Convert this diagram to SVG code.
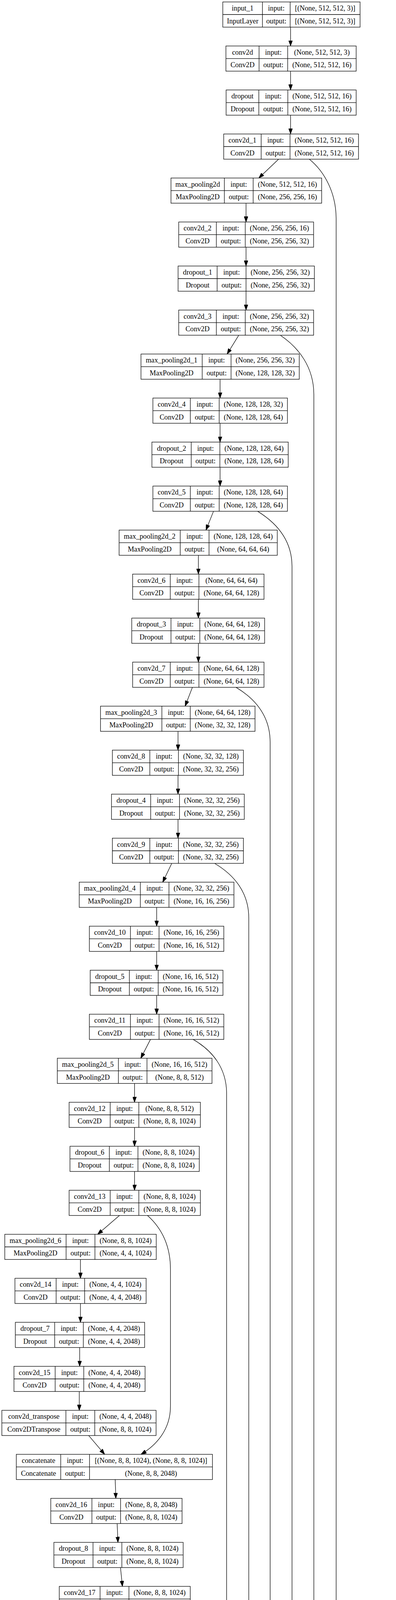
<svg xmlns="http://www.w3.org/2000/svg" width="1014" height="7624" viewBox="0 0 1014 7624">
<defs>
<style>
.n rect{fill:#fff;stroke:#000;stroke-width:1.3}
.n path{fill:none;stroke:#000;stroke-width:1.3}
text{font-family:"Liberation Serif","Times New Roman",serif;font-size:18.2px;text-anchor:middle;fill:#000}
.e path{fill:none;stroke:#000;stroke-width:1.3;marker-end:url(#a)}
</style>
<marker id="a" viewBox="0 0 14 10" refX="14" refY="5" markerWidth="14" markerHeight="10" markerUnits="userSpaceOnUse" orient="auto"><path d="M0,0L14,5L0,10z" fill="#000" stroke="#000" stroke-width="1"/></marker>
</defs>
<rect width="1014" height="7624" fill="#fff"/>
<g id="connectors" class="e">
<path d="M744,69.5L744,117.67"/>
<path d="M744,182.17L744,230.34"/>
<path d="M744,294.84L744,343.01"/>
<path d="M713.4,407.51L662.7,455.68"/>
<path d="M630,520.18L630,568.35"/>
<path d="M630,632.85L630,681.02"/>
<path d="M630,745.52L630,793.69"/>
<path d="M611.4,858.19L581.6,906.36"/>
<path d="M563.5,970.86L563.5,1019.03"/>
<path d="M563.5,1083.53L563.5,1131.7"/>
<path d="M563.5,1196.2L563.5,1244.37"/>
<path d="M546.7,1308.87L527.4,1357.04"/>
<path d="M508,1421.54L508,1469.71"/>
<path d="M508,1534.21L508,1582.38"/>
<path d="M508,1646.88L508,1695.05"/>
<path d="M492.7,1759.55L474,1807.72"/>
<path d="M455.8,1872.22L455.8,1920.39"/>
<path d="M455.8,1984.89L455.8,2033.06"/>
<path d="M455.8,2097.56L455.8,2145.73"/>
<path d="M439.8,2210.23L416.7,2258.4"/>
<path d="M401.2,2322.9L401.2,2371.07"/>
<path d="M401.2,2435.57L401.2,2483.74"/>
<path d="M401.2,2548.24L401.2,2596.41"/>
<path d="M385.3,2660.91L360.5,2709.08"/>
<path d="M344.5,2773.58L344.5,2821.75"/>
<path d="M344.5,2886.25L344.5,2934.42"/>
<path d="M344.5,2998.92L344.5,3047.09"/>
<path d="M306,3111.59L250,3159.76"/>
<path d="M206,3224.26L206,3272.43"/>
<path d="M206,3336.93L206,3385.1"/>
<path d="M204,3449.6L204,3497.77"/>
<path d="M203,3562.27L203,3610.44"/>
<path d="M227,3674.94L268,3723.11"/>
<path d="M295,3787.61L296.6,3835.78"/>
<path d="M300,3900.28L302,3948.45"/>
<path d="M308.5,4012.95L313.5,4061.12"/>
<path d="M322,4125.62L324.5,4173.79"/>
<path d="M329,4238.29L330.5,4286.46"/>
<path d="M332.4,4350.96L333.7,4399.13"/>
<path d="M342.7,4463.63L354.4,4511.8"/>
<path d="M366,4576.3L370.5,4624.47"/>
<path d="M378.3,4688.97L380.2,4737.14"/>
<path d="M383.5,4801.64L385.4,4849.81"/>
<path d="M389.3,4914.31L391.9,4962.48"/>
<path d="M402.9,5026.98L411.9,5075.15"/>
<path d="M424.9,5139.65L428.1,5187.82"/>
<path d="M435.2,5252.32L437.8,5300.49"/>
<path d="M440.4,5364.99L441,5413.16"/>
<path d="M449.4,5477.66L459.1,5525.83"/>
<path d="M470.1,5590.33L474,5638.5"/>
<path d="M479.8,5703L481.8,5751.17"/>
<path d="M484.3,5815.67L486.3,5863.84"/>
<path d="M488.2,5928.34L489.5,5976.51"/>
<path d="M498,6041.01L506.3,6089.18"/>
<path d="M519.3,6153.68L523.8,6201.85"/>
<path d="M530.3,6266.35L532.2,6314.52"/>
<path d="M537.4,6379.02L541.3,6427.19"/>
<path d="M546.4,6491.69L547.1,6539.86"/>
<path d="M548.4,6604.36L549.7,6652.53"/>
<path d="M560,6717.03L571,6765.2"/>
<path d="M587.2,6829.7L592.3,6877.87"/>
<path d="M600.7,6942.37L604,6990.54"/>
<path d="M640.2,7055.04L695.2,7103.21"/>
<path d="M731.4,7167.71L731.4,7215.88"/>
<path d="M731.4,7280.38L731.4,7328.55"/>
<path d="M731.4,7393.05L731.4,7441.22"/>
<path d="M731.4,7505.72L731.4,7553.89"/>
<path d="M792,407.5C832,440 860.7,495 860.7,560L860.7,6950C860.7,7020 830,7068 785.7,7103.2"/>
<path d="M717.8,858.2C765,890 803.6,940 803.6,1010L803.6,6415C803.6,6470 760,6510 704.9,6539.9"/>
<path d="M659.6,1308.9C710,1340 747.7,1385 747.7,1450L747.7,5850C747.7,5910 700,5950 643.4,5976.5"/>
<path d="M604.5,1759.6C655,1790 691.7,1835 691.7,1900L691.7,5300C691.7,5360 650,5390 598.2,5413.2"/>
<path d="M549.5,2210.2C600,2240 637,2285 637,2350L637,4715C637,4780 590,4820 536.7,4849.8"/>
<path d="M494.4,2660.9C545,2690 580.3,2735 580.3,2800L580.3,4140C580.3,4210 530,4260 486,4286.5"/>
<path d="M377.5,3111.6C415,3145 436.5,3190 436.5,3250L436.5,3600C436.5,3660 400,3700 361,3723.1"/>
</g>
<g id="input_1" class="n" transform="translate(0,5)"><rect x="570.5" width="351.5" height="64.5"/><path d="M672 0v64.5M743 0v64.5M570.5 32.25H922"/><text x="621.3" y="22">input_1</text><text x="621.3" y="54.5">InputLayer</text><text x="707.5" y="22">input:</text><text x="707.5" y="54.5">output:</text><text x="832.5" y="22">[(None, 512, 512, 3)]</text><text x="832.5" y="54.5">[(None, 512, 512, 3)]</text></g>
<g id="conv2d" class="n" transform="translate(0,117.67)"><rect x="578.5" width="333.5" height="64.5"/><path d="M663.4 0v64.5M736.6 0v64.5M578.5 32.25H912"/><text x="621" y="22">conv2d</text><text x="621" y="54.5">Conv2D</text><text x="700" y="22">input:</text><text x="700" y="54.5">output:</text><text x="824.3" y="22">(None, 512, 512, 3)</text><text x="824.3" y="54.5">(None, 512, 512, 16)</text></g>
<g id="dropout" class="n" transform="translate(0,230.34)"><rect x="579" width="333" height="64.5"/><path d="M662.7 0v64.5M737 0v64.5M579 32.25H912"/><text x="620.9" y="22">dropout</text><text x="620.9" y="54.5">Dropout</text><text x="699.9" y="22">input:</text><text x="699.9" y="54.5">output:</text><text x="824.5" y="22">(None, 512, 512, 16)</text><text x="824.5" y="54.5">(None, 512, 512, 16)</text></g>
<g id="conv2d_1" class="n" transform="translate(0,343.01)"><rect x="572.8" width="345.2" height="64.5"/><path d="M668.7 0v64.5M742.6 0v64.5M572.8 32.25H918"/><text x="620.8" y="22">conv2d_1</text><text x="620.8" y="54.5">Conv2D</text><text x="705.7" y="22">input:</text><text x="705.7" y="54.5">output:</text><text x="830.3" y="22">(None, 512, 512, 16)</text><text x="830.3" y="54.5">(None, 512, 512, 16)</text></g>
<g id="max_pooling2d" class="n" transform="translate(0,455.68)"><rect x="437.8" width="385.8" height="64.5"/><path d="M574.5 0v64.5M648.3 0v64.5M437.8 32.25H823.6"/><text x="506.2" y="22">max_pooling2d</text><text x="506.2" y="54.5">MaxPooling2D</text><text x="611.4" y="22">input:</text><text x="611.4" y="54.5">output:</text><text x="736" y="22">(None, 512, 512, 16)</text><text x="736" y="54.5">(None, 256, 256, 16)</text></g>
<g id="conv2d_2" class="n" transform="translate(0,568.35)"><rect x="457.6" width="345.4" height="64.5"/><path d="M554 0v64.5M628 0v64.5M457.6 32.25H803"/><text x="505.8" y="22">conv2d_2</text><text x="505.8" y="54.5">Conv2D</text><text x="591" y="22">input:</text><text x="591" y="54.5">output:</text><text x="715.5" y="22">(None, 256, 256, 16)</text><text x="715.5" y="54.5">(None, 256, 256, 32)</text></g>
<g id="dropout_1" class="n" transform="translate(0,681.02)"><rect x="456" width="349" height="64.5"/><path d="M556 0v64.5M630 0v64.5M456 32.25H805"/><text x="506" y="22">dropout_1</text><text x="506" y="54.5">Dropout</text><text x="593" y="22">input:</text><text x="593" y="54.5">output:</text><text x="717.5" y="22">(None, 256, 256, 32)</text><text x="717.5" y="54.5">(None, 256, 256, 32)</text></g>
<g id="conv2d_3" class="n" transform="translate(0,793.69)"><rect x="457.6" width="345.4" height="64.5"/><path d="M554 0v64.5M628 0v64.5M457.6 32.25H803"/><text x="505.8" y="22">conv2d_3</text><text x="505.8" y="54.5">Conv2D</text><text x="591" y="22">input:</text><text x="591" y="54.5">output:</text><text x="715.5" y="22">(None, 256, 256, 32)</text><text x="715.5" y="54.5">(None, 256, 256, 32)</text></g>
<g id="max_pooling2d_1" class="n" transform="translate(0,906.36)"><rect x="361" width="405.3" height="64.5"/><path d="M517.7 0v64.5M591.6 0v64.5M361 32.25H766.3"/><text x="439.4" y="22">max_pooling2d_1</text><text x="439.4" y="54.5">MaxPooling2D</text><text x="554.7" y="22">input:</text><text x="554.7" y="54.5">output:</text><text x="679" y="22">(None, 256, 256, 32)</text><text x="679" y="54.5">(None, 128, 128, 32)</text></g>
<g id="conv2d_4" class="n" transform="translate(0,1019.03)"><rect x="391.5" width="344.5" height="64.5"/><path d="M487.4 0v64.5M561.3 0v64.5M391.5 32.25H736"/><text x="439.5" y="22">conv2d_4</text><text x="439.5" y="54.5">Conv2D</text><text x="524.4" y="22">input:</text><text x="524.4" y="54.5">output:</text><text x="648.7" y="22">(None, 128, 128, 32)</text><text x="648.7" y="54.5">(None, 128, 128, 64)</text></g>
<g id="dropout_2" class="n" transform="translate(0,1131.7)"><rect x="389" width="349" height="64.5"/><path d="M489.6 0v64.5M563 0v64.5M389 32.25H738"/><text x="439.3" y="22">dropout_2</text><text x="439.3" y="54.5">Dropout</text><text x="526.3" y="22">input:</text><text x="526.3" y="54.5">output:</text><text x="650.5" y="22">(None, 128, 128, 64)</text><text x="650.5" y="54.5">(None, 128, 128, 64)</text></g>
<g id="conv2d_5" class="n" transform="translate(0,1244.37)"><rect x="391.5" width="344.5" height="64.5"/><path d="M487.4 0v64.5M561.3 0v64.5M391.5 32.25H736"/><text x="439.5" y="22">conv2d_5</text><text x="439.5" y="54.5">Conv2D</text><text x="524.4" y="22">input:</text><text x="524.4" y="54.5">output:</text><text x="648.7" y="22">(None, 128, 128, 64)</text><text x="648.7" y="54.5">(None, 128, 128, 64)</text></g>
<g id="max_pooling2d_2" class="n" transform="translate(0,1357.04)"><rect x="305" width="405" height="64.5"/><path d="M461.5 0v64.5M535.3 0v64.5M305 32.25H710"/><text x="383.3" y="22">max_pooling2d_2</text><text x="383.3" y="54.5">MaxPooling2D</text><text x="498.4" y="22">input:</text><text x="498.4" y="54.5">output:</text><text x="622.7" y="22">(None, 128, 128, 64)</text><text x="622.7" y="54.5">(None, 64, 64, 64)</text></g>
<g id="conv2d_6" class="n" transform="translate(0,1469.71)"><rect x="339.6" width="336.4" height="64.5"/><path d="M436 0v64.5M509.4 0v64.5M339.6 32.25H676"/><text x="387.8" y="22">conv2d_6</text><text x="387.8" y="54.5">Conv2D</text><text x="472.7" y="22">input:</text><text x="472.7" y="54.5">output:</text><text x="592.7" y="22">(None, 64, 64, 64)</text><text x="592.7" y="54.5">(None, 64, 64, 128)</text></g>
<g id="dropout_3" class="n" transform="translate(0,1582.38)"><rect x="337.4" width="340.2" height="64.5"/><path d="M437.8 0v64.5M511.6 0v64.5M337.4 32.25H677.6"/><text x="387.6" y="22">dropout_3</text><text x="387.6" y="54.5">Dropout</text><text x="474.7" y="22">input:</text><text x="474.7" y="54.5">output:</text><text x="594.6" y="22">(None, 64, 64, 128)</text><text x="594.6" y="54.5">(None, 64, 64, 128)</text></g>
<g id="conv2d_7" class="n" transform="translate(0,1695.05)"><rect x="339.6" width="336.4" height="64.5"/><path d="M436 0v64.5M509.4 0v64.5M339.6 32.25H676"/><text x="387.8" y="22">conv2d_7</text><text x="387.8" y="54.5">Conv2D</text><text x="472.7" y="22">input:</text><text x="472.7" y="54.5">output:</text><text x="592.7" y="22">(None, 64, 64, 128)</text><text x="592.7" y="54.5">(None, 64, 64, 128)</text></g>
<g id="max_pooling2d_3" class="n" transform="translate(0,1807.72)"><rect x="257.4" width="395.6" height="64.5"/><path d="M414.5 0v64.5M487.2 0v64.5M257.4 32.25H653"/><text x="336" y="22">max_pooling2d_3</text><text x="336" y="54.5">MaxPooling2D</text><text x="450.9" y="22">input:</text><text x="450.9" y="54.5">output:</text><text x="570.1" y="22">(None, 64, 64, 128)</text><text x="570.1" y="54.5">(None, 32, 32, 128)</text></g>
<g id="conv2d_8" class="n" transform="translate(0,1920.39)"><rect x="287.7" width="335.6" height="64.5"/><path d="M383.6 0v64.5M456.9 0v64.5M287.7 32.25H623.3"/><text x="335.7" y="22">conv2d_8</text><text x="335.7" y="54.5">Conv2D</text><text x="420.3" y="22">input:</text><text x="420.3" y="54.5">output:</text><text x="540.1" y="22">(None, 32, 32, 128)</text><text x="540.1" y="54.5">(None, 32, 32, 256)</text></g>
<g id="dropout_4" class="n" transform="translate(0,2033.06)"><rect x="285.5" width="340" height="64.5"/><path d="M385.8 0v64.5M459.6 0v64.5M285.5 32.25H625.5"/><text x="335.7" y="22">dropout_4</text><text x="335.7" y="54.5">Dropout</text><text x="422.7" y="22">input:</text><text x="422.7" y="54.5">output:</text><text x="542.6" y="22">(None, 32, 32, 256)</text><text x="542.6" y="54.5">(None, 32, 32, 256)</text></g>
<g id="conv2d_9" class="n" transform="translate(0,2145.73)"><rect x="287.7" width="335.6" height="64.5"/><path d="M383.6 0v64.5M456.9 0v64.5M287.7 32.25H623.3"/><text x="335.7" y="22">conv2d_9</text><text x="335.7" y="54.5">Conv2D</text><text x="420.3" y="22">input:</text><text x="420.3" y="54.5">output:</text><text x="540.1" y="22">(None, 32, 32, 256)</text><text x="540.1" y="54.5">(None, 32, 32, 256)</text></g>
<g id="max_pooling2d_4" class="n" transform="translate(0,2258.4)"><rect x="202.9" width="396.1" height="64.5"/><path d="M359.4 0v64.5M432.6 0v64.5M202.9 32.25H599"/><text x="281.2" y="22">max_pooling2d_4</text><text x="281.2" y="54.5">MaxPooling2D</text><text x="396" y="22">input:</text><text x="396" y="54.5">output:</text><text x="515.8" y="22">(None, 32, 32, 256)</text><text x="515.8" y="54.5">(None, 16, 16, 256)</text></g>
<g id="conv2d_10" class="n" transform="translate(0,2371.07)"><rect x="228.8" width="344.3" height="64.5"/><path d="M334 0v64.5M407.3 0v64.5M228.8 32.25H573.1"/><text x="281.4" y="22">conv2d_10</text><text x="281.4" y="54.5">Conv2D</text><text x="370.7" y="22">input:</text><text x="370.7" y="54.5">output:</text><text x="490.2" y="22">(None, 16, 16, 256)</text><text x="490.2" y="54.5">(None, 16, 16, 512)</text></g>
<g id="dropout_5" class="n" transform="translate(0,2483.74)"><rect x="231" width="339.9" height="64.5"/><path d="M331.3 0v64.5M405.1 0v64.5M231 32.25H570.9"/><text x="281.2" y="22">dropout_5</text><text x="281.2" y="54.5">Dropout</text><text x="368.2" y="22">input:</text><text x="368.2" y="54.5">output:</text><text x="488" y="22">(None, 16, 16, 512)</text><text x="488" y="54.5">(None, 16, 16, 512)</text></g>
<g id="conv2d_11" class="n" transform="translate(0,2596.41)"><rect x="228.8" width="344.3" height="64.5"/><path d="M334 0v64.5M407.3 0v64.5M228.8 32.25H573.1"/><text x="281.4" y="22">conv2d_11</text><text x="281.4" y="54.5">Conv2D</text><text x="370.7" y="22">input:</text><text x="370.7" y="54.5">output:</text><text x="490.2" y="22">(None, 16, 16, 512)</text><text x="490.2" y="54.5">(None, 16, 16, 512)</text></g>
<g id="max_pooling2d_5" class="n" transform="translate(0,2709.08)"><rect x="146.7" width="396.1" height="64.5"/><path d="M303.2 0v64.5M376.4 0v64.5M146.7 32.25H542.8"/><text x="225" y="22">max_pooling2d_5</text><text x="225" y="54.5">MaxPooling2D</text><text x="339.8" y="22">input:</text><text x="339.8" y="54.5">output:</text><text x="459.6" y="22">(None, 16, 16, 512)</text><text x="459.6" y="54.5">(None, 8, 8, 512)</text></g>
<g id="conv2d_12" class="n" transform="translate(0,2821.75)"><rect x="177" width="336.1" height="64.5"/><path d="M282.2 0v64.5M355.5 0v64.5M177 32.25H513.1"/><text x="229.6" y="22">conv2d_12</text><text x="229.6" y="54.5">Conv2D</text><text x="318.9" y="22">input:</text><text x="318.9" y="54.5">output:</text><text x="434.3" y="22">(None, 8, 8, 512)</text><text x="434.3" y="54.5">(None, 8, 8, 1024)</text></g>
<g id="dropout_6" class="n" transform="translate(0,2934.42)"><rect x="179.2" width="331.1" height="64.5"/><path d="M280 0v64.5M353.3 0v64.5M179.2 32.25H510.3"/><text x="229.6" y="22">dropout_6</text><text x="229.6" y="54.5">Dropout</text><text x="316.7" y="22">input:</text><text x="316.7" y="54.5">output:</text><text x="431.8" y="22">(None, 8, 8, 1024)</text><text x="431.8" y="54.5">(None, 8, 8, 1024)</text></g>
<g id="conv2d_13" class="n" transform="translate(0,3047.09)"><rect x="177" width="336.1" height="64.5"/><path d="M282.2 0v64.5M355.5 0v64.5M177 32.25H513.1"/><text x="229.6" y="22">conv2d_13</text><text x="229.6" y="54.5">Conv2D</text><text x="318.9" y="22">input:</text><text x="318.9" y="54.5">output:</text><text x="434.3" y="22">(None, 8, 8, 1024)</text><text x="434.3" y="54.5">(None, 8, 8, 1024)</text></g>
<g id="max_pooling2d_6" class="n" transform="translate(0,3159.76)"><rect x="12.3" width="387.8" height="64.5"/><path d="M169.3 0v64.5M243.1 0v64.5M12.3 32.25H400.1"/><text x="90.8" y="22">max_pooling2d_6</text><text x="90.8" y="54.5">MaxPooling2D</text><text x="206.2" y="22">input:</text><text x="206.2" y="54.5">output:</text><text x="321.6" y="22">(None, 8, 8, 1024)</text><text x="321.6" y="54.5">(None, 4, 4, 1024)</text></g>
<g id="conv2d_14" class="n" transform="translate(0,3272.43)"><rect x="38.3" width="335.9" height="64.5"/><path d="M143.7 0v64.5M216.7 0v64.5M38.3 32.25H374.2"/><text x="91" y="22">conv2d_14</text><text x="91" y="54.5">Conv2D</text><text x="180.2" y="22">input:</text><text x="180.2" y="54.5">output:</text><text x="295.5" y="22">(None, 4, 4, 1024)</text><text x="295.5" y="54.5">(None, 4, 4, 2048)</text></g>
<g id="dropout_7" class="n" transform="translate(0,3385.1)"><rect x="39.3" width="331.1" height="64.5"/><path d="M140 0v64.5M213.4 0v64.5M39.3 32.25H370.4"/><text x="89.7" y="22">dropout_7</text><text x="89.7" y="54.5">Dropout</text><text x="176.7" y="22">input:</text><text x="176.7" y="54.5">output:</text><text x="291.9" y="22">(None, 4, 4, 2048)</text><text x="291.9" y="54.5">(None, 4, 4, 2048)</text></g>
<g id="conv2d_15" class="n" transform="translate(0,3497.77)"><rect x="35.7" width="335.8" height="64.5"/><path d="M141.3 0v64.5M214.5 0v64.5M35.7 32.25H371.5"/><text x="88.5" y="22">conv2d_15</text><text x="88.5" y="54.5">Conv2D</text><text x="177.9" y="22">input:</text><text x="177.9" y="54.5">output:</text><text x="293" y="22">(None, 4, 4, 2048)</text><text x="293" y="54.5">(None, 4, 4, 2048)</text></g>
<g id="conv2d_transpose" class="n" transform="translate(0,3610.44)"><rect x="4.7" width="394.9" height="64.5"/><path d="M168.7 0v64.5M242.6 0v64.5M4.7 32.25H399.6"/><text x="86.7" y="22">conv2d_transpose</text><text x="86.7" y="54.5">Conv2DTranspose</text><text x="205.7" y="22">input:</text><text x="205.7" y="54.5">output:</text><text x="321.1" y="22">(None, 4, 4, 2048)</text><text x="321.1" y="54.5">(None, 8, 8, 1024)</text></g>
<g id="concatenate" class="n" transform="translate(0,3723.11)"><rect x="41.7" width="502.3" height="64.5"/><path d="M155.5 0v64.5M229.3 0v64.5M41.7 32.25H544"/><text x="98.6" y="22">concatenate</text><text x="98.6" y="54.5">Concatenate</text><text x="192.4" y="22">input:</text><text x="192.4" y="54.5">output:</text><text x="386.7" y="22">[(None, 8, 8, 1024), (None, 8, 8, 1024)]</text><text x="386.7" y="54.5">(None, 8, 8, 2048)</text></g>
<g id="conv2d_16" class="n" transform="translate(0,3835.78)"><rect x="130" width="336.2" height="64.5"/><path d="M235.4 0v64.5M308.7 0v64.5M130 32.25H466.2"/><text x="182.7" y="22">conv2d_16</text><text x="182.7" y="54.5">Conv2D</text><text x="272.1" y="22">input:</text><text x="272.1" y="54.5">output:</text><text x="387.5" y="22">(None, 8, 8, 2048)</text><text x="387.5" y="54.5">(None, 8, 8, 1024)</text></g>
<g id="dropout_8" class="n" transform="translate(0,3948.45)"><rect x="138" width="331" height="64.5"/><path d="M238.2 0v64.5M312 0v64.5M138 32.25H469"/><text x="188.1" y="22">dropout_8</text><text x="188.1" y="54.5">Dropout</text><text x="275.1" y="22">input:</text><text x="275.1" y="54.5">output:</text><text x="390.5" y="22">(None, 8, 8, 1024)</text><text x="390.5" y="54.5">(None, 8, 8, 1024)</text></g>
<g id="conv2d_17" class="n" transform="translate(0,4061.12)"><rect x="151.7" width="335.5" height="64.5"/><path d="M256.3 0v64.5M330.2 0v64.5M151.7 32.25H487.2"/><text x="204" y="22">conv2d_17</text><text x="204" y="54.5">Conv2D</text><text x="293.3" y="22">input:</text><text x="293.3" y="54.5">output:</text><text x="408.7" y="22">(None, 8, 8, 1024)</text><text x="408.7" y="54.5">(None, 8, 8, 1024)</text></g>
<g id="conv2d_transpose_1" class="n" transform="translate(0,4173.79)"><rect x="118.7" width="417.5" height="64.5"/><path d="M296.6 0v64.5M369.8 0v64.5M118.7 32.25H536.2"/><text x="207.7" y="22">conv2d_transpose_1</text><text x="207.7" y="54.5">Conv2DTranspose</text><text x="333.2" y="22">input:</text><text x="333.2" y="54.5">output:</text><text x="453" y="22">(None, 8, 8, 1024)</text><text x="453" y="54.5">(None, 16, 16, 512)</text></g>
<g id="concatenate_1" class="n" transform="translate(0,4286.46)"><rect x="63.4" width="535.4" height="64.5"/><path d="M192 0v64.5M265.8 0v64.5M63.4 32.25H598.8"/><text x="127.7" y="22">concatenate_1</text><text x="127.7" y="54.5">Concatenate</text><text x="228.9" y="22">input:</text><text x="228.9" y="54.5">output:</text><text x="432.3" y="22">[(None, 16, 16, 512), (None, 16, 16, 512)]</text><text x="432.3" y="54.5">(None, 16, 16, 1024)</text></g>
<g id="conv2d_18" class="n" transform="translate(0,4399.13)"><rect x="158.4" width="353.8" height="64.5"/><path d="M263.8 0v64.5M337.6 0v64.5M158.4 32.25H512.2"/><text x="211.1" y="22">conv2d_18</text><text x="211.1" y="54.5">Conv2D</text><text x="300.7" y="22">input:</text><text x="300.7" y="54.5">output:</text><text x="424.9" y="22">(None, 16, 16, 1024)</text><text x="424.9" y="54.5">(None, 16, 16, 512)</text></g>
<g id="dropout_9" class="n" transform="translate(0,4511.8)"><rect x="192" width="339.6" height="64.5"/><path d="M293 0v64.5M366 0v64.5M192 32.25H531.6"/><text x="242.5" y="22">dropout_9</text><text x="242.5" y="54.5">Dropout</text><text x="329.5" y="22">input:</text><text x="329.5" y="54.5">output:</text><text x="448.8" y="22">(None, 16, 16, 512)</text><text x="448.8" y="54.5">(None, 16, 16, 512)</text></g>
<g id="conv2d_19" class="n" transform="translate(0,4624.47)"><rect x="202.4" width="345.3" height="64.5"/><path d="M308.5 0v64.5M382.2 0v64.5M202.4 32.25H547.7"/><text x="255.5" y="22">conv2d_19</text><text x="255.5" y="54.5">Conv2D</text><text x="345.4" y="22">input:</text><text x="345.4" y="54.5">output:</text><text x="465" y="22">(None, 16, 16, 512)</text><text x="465" y="54.5">(None, 16, 16, 512)</text></g>
<g id="conv2d_transpose_2" class="n" transform="translate(0,4737.14)"><rect x="173.3" width="417.1" height="64.5"/><path d="M351.1 0v64.5M424.9 0v64.5M173.3 32.25H590.4"/><text x="262.2" y="22">conv2d_transpose_2</text><text x="262.2" y="54.5">Conv2DTranspose</text><text x="388" y="22">input:</text><text x="388" y="54.5">output:</text><text x="507.7" y="22">(None, 16, 16, 512)</text><text x="507.7" y="54.5">(None, 32, 32, 256)</text></g>
<g id="concatenate_2" class="n" transform="translate(0,4849.81)"><rect x="118.3" width="534.8" height="64.5"/><path d="M246.4 0v64.5M320.1 0v64.5M118.3 32.25H653.1"/><text x="182.4" y="22">concatenate_2</text><text x="182.4" y="54.5">Concatenate</text><text x="283.3" y="22">input:</text><text x="283.3" y="54.5">output:</text><text x="486.6" y="22">[(None, 32, 32, 256), (None, 32, 32, 256)]</text><text x="486.6" y="54.5">(None, 32, 32, 512)</text></g>
<g id="conv2d_20" class="n" transform="translate(0,4962.48)"><rect x="222.4" width="345.4" height="64.5"/><path d="M328.5 0v64.5M401.6 0v64.5M222.4 32.25H567.8"/><text x="275.5" y="22">conv2d_20</text><text x="275.5" y="54.5">Conv2D</text><text x="365.1" y="22">input:</text><text x="365.1" y="54.5">output:</text><text x="484.7" y="22">(None, 32, 32, 512)</text><text x="484.7" y="54.5">(None, 32, 32, 256)</text></g>
<g id="dropout_10" class="n" transform="translate(0,5075.15)"><rect x="245.7" width="349.2" height="64.5"/><path d="M355.7 0v64.5M428.7 0v64.5M245.7 32.25H594.9"/><text x="300.7" y="22">dropout_10</text><text x="300.7" y="54.5">Dropout</text><text x="392.2" y="22">input:</text><text x="392.2" y="54.5">output:</text><text x="511.8" y="22">(None, 32, 32, 256)</text><text x="511.8" y="54.5">(None, 32, 32, 256)</text></g>
<g id="conv2d_21" class="n" transform="translate(0,5187.82)"><rect x="260.6" width="344.7" height="64.5"/><path d="M366 0v64.5M439.1 0v64.5M260.6 32.25H605.3"/><text x="313.3" y="22">conv2d_21</text><text x="313.3" y="54.5">Conv2D</text><text x="402.6" y="22">input:</text><text x="402.6" y="54.5">output:</text><text x="522.2" y="22">(None, 32, 32, 256)</text><text x="522.2" y="54.5">(None, 32, 32, 256)</text></g>
<g id="conv2d_transpose_3" class="n" transform="translate(0,5300.49)"><rect x="230.9" width="417.1" height="64.5"/><path d="M408.7 0v64.5M482.4 0v64.5M230.9 32.25H648"/><text x="319.8" y="22">conv2d_transpose_3</text><text x="319.8" y="54.5">Conv2DTranspose</text><text x="445.6" y="22">input:</text><text x="445.6" y="54.5">output:</text><text x="565.2" y="22">(None, 32, 32, 256)</text><text x="565.2" y="54.5">(None, 64, 64, 128)</text></g>
<g id="concatenate_3" class="n" transform="translate(0,5413.16)"><rect x="174.6" width="534.8" height="64.5"/><path d="M303.3 0v64.5M376.4 0v64.5M174.6 32.25H709.4"/><text x="239" y="22">concatenate_3</text><text x="239" y="54.5">Concatenate</text><text x="339.9" y="22">input:</text><text x="339.9" y="54.5">output:</text><text x="542.9" y="22">[(None, 64, 64, 128), (None, 64, 64, 128)]</text><text x="542.9" y="54.5">(None, 64, 64, 256)</text></g>
<g id="conv2d_22" class="n" transform="translate(0,5525.83)"><rect x="293.6" width="345.3" height="64.5"/><path d="M399.6 0v64.5M472.7 0v64.5M293.6 32.25H638.9"/><text x="346.6" y="22">conv2d_22</text><text x="346.6" y="54.5">Conv2D</text><text x="436.2" y="22">input:</text><text x="436.2" y="54.5">output:</text><text x="555.8" y="22">(None, 64, 64, 256)</text><text x="555.8" y="54.5">(None, 64, 64, 128)</text></g>
<g id="dropout_11" class="n" transform="translate(0,5638.5)"><rect x="303.9" width="348.6" height="64.5"/><path d="M412.6 0v64.5M486.3 0v64.5M303.9 32.25H652.5"/><text x="358.3" y="22">dropout_11</text><text x="358.3" y="54.5">Dropout</text><text x="449.5" y="22">input:</text><text x="449.5" y="54.5">output:</text><text x="569.4" y="22">(None, 64, 64, 128)</text><text x="569.4" y="54.5">(None, 64, 64, 128)</text></g>
<g id="conv2d_23" class="n" transform="translate(0,5751.17)"><rect x="310.4" width="346" height="64.5"/><path d="M416.5 0v64.5M490.2 0v64.5M310.4 32.25H656.4"/><text x="363.5" y="22">conv2d_23</text><text x="363.5" y="54.5">Conv2D</text><text x="453.4" y="22">input:</text><text x="453.4" y="54.5">output:</text><text x="573.3" y="22">(None, 64, 64, 128)</text><text x="573.3" y="54.5">(None, 64, 64, 128)</text></g>
<g id="conv2d_transpose_4" class="n" transform="translate(0,5863.84)"><rect x="274.2" width="426.8" height="64.5"/><path d="M451.4 0v64.5M525.1 0v64.5M274.2 32.25H701"/><text x="362.8" y="22">conv2d_transpose_4</text><text x="362.8" y="54.5">Conv2DTranspose</text><text x="488.3" y="22">input:</text><text x="488.3" y="54.5">output:</text><text x="613.1" y="22">(None, 64, 64, 128)</text><text x="613.1" y="54.5">(None, 128, 128, 64)</text></g>
<g id="concatenate_4" class="n" transform="translate(0,5976.51)"><rect x="213.4" width="553.6" height="64.5"/><path d="M341.4 0v64.5M415.2 0v64.5M213.4 32.25H767"/><text x="277.4" y="22">concatenate_4</text><text x="277.4" y="54.5">Concatenate</text><text x="378.3" y="22">input:</text><text x="378.3" y="54.5">output:</text><text x="591.1" y="22">[(None, 128, 128, 64), (None, 128, 128, 64)]</text><text x="591.1" y="54.5">(None, 128, 128, 128)</text></g>
<g id="conv2d_24" class="n" transform="translate(0,6089.18)"><rect x="333.7" width="363.4" height="64.5"/><path d="M439.1 0v64.5M512.8 0v64.5M333.7 32.25H697.1"/><text x="386.4" y="22">conv2d_24</text><text x="386.4" y="54.5">Conv2D</text><text x="476" y="22">input:</text><text x="476" y="54.5">output:</text><text x="605" y="22">(None, 128, 128, 128)</text><text x="605" y="54.5">(None, 128, 128, 64)</text></g>
<g id="dropout_12" class="n" transform="translate(0,6201.85)"><rect x="347.9" width="358.9" height="64.5"/><path d="M457.8 0v64.5M531.6 0v64.5M347.9 32.25H706.8"/><text x="402.9" y="22">dropout_12</text><text x="402.9" y="54.5">Dropout</text><text x="494.7" y="22">input:</text><text x="494.7" y="54.5">output:</text><text x="619.2" y="22">(None, 128, 128, 64)</text><text x="619.2" y="54.5">(None, 128, 128, 64)</text></g>
<g id="conv2d_25" class="n" transform="translate(0,6314.52)"><rect x="357.6" width="353.7" height="64.5"/><path d="M463 0v64.5M536.1 0v64.5M357.6 32.25H711.3"/><text x="410.3" y="22">conv2d_25</text><text x="410.3" y="54.5">Conv2D</text><text x="499.6" y="22">input:</text><text x="499.6" y="54.5">output:</text><text x="623.7" y="22">(None, 128, 128, 64)</text><text x="623.7" y="54.5">(None, 128, 128, 64)</text></g>
<g id="conv2d_transpose_5" class="n" transform="translate(0,6427.19)"><rect x="331.1" width="427.4" height="64.5"/><path d="M509.6 0v64.5M583.3 0v64.5M331.1 32.25H758.5"/><text x="420.4" y="22">conv2d_transpose_5</text><text x="420.4" y="54.5">Conv2DTranspose</text><text x="546.5" y="22">input:</text><text x="546.5" y="54.5">output:</text><text x="670.9" y="22">(None, 128, 128, 64)</text><text x="670.9" y="54.5">(None, 256, 256, 32)</text></g>
<g id="concatenate_5" class="n" transform="translate(0,6539.86)"><rect x="271" width="552.8" height="64.5"/><path d="M399.6 0v64.5M473.4 0v64.5M271 32.25H823.8"/><text x="335.3" y="22">concatenate_5</text><text x="335.3" y="54.5">Concatenate</text><text x="436.5" y="22">input:</text><text x="436.5" y="54.5">output:</text><text x="648.6" y="22">[(None, 256, 256, 32), (None, 256, 256, 32)]</text><text x="648.6" y="54.5">(None, 256, 256, 64)</text></g>
<g id="conv2d_26" class="n" transform="translate(0,6652.53)"><rect x="374.4" width="354.4" height="64.5"/><path d="M479.8 0v64.5M553.6 0v64.5M374.4 32.25H728.8"/><text x="427.1" y="22">conv2d_26</text><text x="427.1" y="54.5">Conv2D</text><text x="516.7" y="22">input:</text><text x="516.7" y="54.5">output:</text><text x="641.2" y="22">(None, 256, 256, 64)</text><text x="641.2" y="54.5">(None, 256, 256, 32)</text></g>
<g id="dropout_13" class="n" transform="translate(0,6765.2)"><rect x="403.5" width="357.6" height="64.5"/><path d="M512.2 0v64.5M585.9 0v64.5M403.5 32.25H761.1"/><text x="457.9" y="22">dropout_13</text><text x="457.9" y="54.5">Dropout</text><text x="549.1" y="22">input:</text><text x="549.1" y="54.5">output:</text><text x="673.5" y="22">(None, 256, 256, 32)</text><text x="673.5" y="54.5">(None, 256, 256, 32)</text></g>
<g id="conv2d_27" class="n" transform="translate(0,6877.87)"><rect x="421" width="353.7" height="64.5"/><path d="M527 0v64.5M600.1 0v64.5M421 32.25H774.7"/><text x="474" y="22">conv2d_27</text><text x="474" y="54.5">Conv2D</text><text x="563.6" y="22">input:</text><text x="563.6" y="54.5">output:</text><text x="687.4" y="22">(None, 256, 256, 32)</text><text x="687.4" y="54.5">(None, 256, 256, 32)</text></g>
<g id="conv2d_transpose_6" class="n" transform="translate(0,6990.54)"><rect x="392.5" width="426.8" height="64.5"/><path d="M571 0v64.5M644.1 0v64.5M392.5 32.25H819.3"/><text x="481.8" y="22">conv2d_transpose_6</text><text x="481.8" y="54.5">Conv2DTranspose</text><text x="607.6" y="22">input:</text><text x="607.6" y="54.5">output:</text><text x="731.7" y="22">(None, 256, 256, 32)</text><text x="731.7" y="54.5">(None, 512, 512, 16)</text></g>
<g id="concatenate_6" class="n" transform="translate(0,7103.21)"><rect x="455.2" width="552.3" height="64.5"/><path d="M583.3 0v64.5M656.4 0v64.5M455.2 32.25H1007.5"/><text x="519.3" y="22">concatenate_6</text><text x="519.3" y="54.5">Concatenate</text><text x="619.9" y="22">input:</text><text x="619.9" y="54.5">output:</text><text x="832" y="22">[(None, 512, 512, 16), (None, 512, 512, 16)]</text><text x="832" y="54.5">(None, 512, 512, 32)</text></g>
<g id="conv2d_28" class="n" transform="translate(0,7215.88)"><rect x="554.8" width="353.8" height="64.5"/><path d="M659.6 0v64.5M732.7 0v64.5M554.8 32.25H908.6"/><text x="607.2" y="22">conv2d_28</text><text x="607.2" y="54.5">Conv2D</text><text x="696.2" y="22">input:</text><text x="696.2" y="54.5">output:</text><text x="820.7" y="22">(None, 512, 512, 32)</text><text x="820.7" y="54.5">(None, 512, 512, 16)</text></g>
<g id="dropout_14" class="n" transform="translate(0,7328.55)"><rect x="552.9" width="357.6" height="64.5"/><path d="M661.5 0v64.5M735.3 0v64.5M552.9 32.25H910.5"/><text x="607.2" y="22">dropout_14</text><text x="607.2" y="54.5">Dropout</text><text x="698.4" y="22">input:</text><text x="698.4" y="54.5">output:</text><text x="822.9" y="22">(None, 512, 512, 16)</text><text x="822.9" y="54.5">(None, 512, 512, 16)</text></g>
<g id="conv2d_29" class="n" transform="translate(0,7441.22)"><rect x="554.8" width="353.8" height="64.5"/><path d="M659.6 0v64.5M732.7 0v64.5M554.8 32.25H908.6"/><text x="607.2" y="22">conv2d_29</text><text x="607.2" y="54.5">Conv2D</text><text x="696.2" y="22">input:</text><text x="696.2" y="54.5">output:</text><text x="820.7" y="22">(None, 512, 512, 16)</text><text x="820.7" y="54.5">(None, 512, 512, 16)</text></g>
<g id="conv2d_30" class="n" transform="translate(0,7553.89)"><rect x="554.8" width="353.8" height="64.5"/><path d="M659.6 0v64.5M732.7 0v64.5M554.8 32.25H908.6"/><text x="607.2" y="22">conv2d_30</text><text x="607.2" y="54.5">Conv2D</text><text x="696.2" y="22">input:</text><text x="696.2" y="54.5">output:</text><text x="820.7" y="22">(None, 512, 512, 16)</text><text x="820.7" y="54.5">(None, 512, 512, 1)</text></g>
</svg>
